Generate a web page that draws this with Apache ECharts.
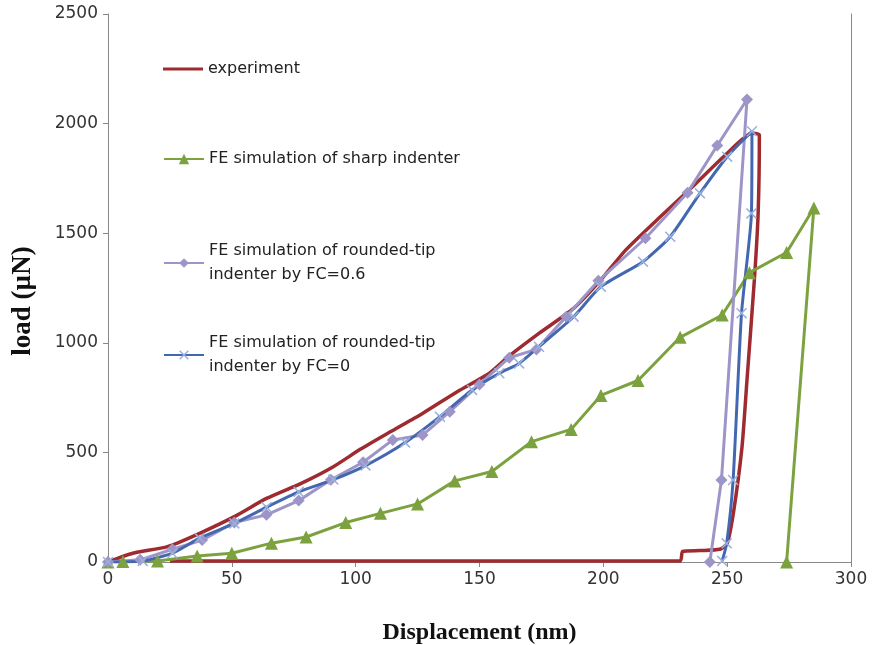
<!DOCTYPE html>
<html>
<head>
<meta charset="utf-8">
<script src="https://cdn.jsdelivr.net/npm/echarts@6/dist/echarts.min.js"></script>
<style>
  html, body { margin: 0; padding: 0; background: #fff; }
  #main { width: 874px; height: 645px; }
</style>
</head>
<body>
<div id="main"></div>
<script>
// displacement (nm) / load (uN)
var expX = [0, 10, 24, 37, 51, 64, 78, 91, 102, 114, 127, 141, 154, 162, 174, 188, 199, 209, 223, 236, 250, 260, 263,
  262.5, 261, 258, 256, 252.5, 250, 247, 239, 232, 231, 25]
var expY = [0, 40, 70, 131, 207, 290, 359, 435, 515, 594, 678, 777, 861, 940, 1043, 1157, 1287, 1423, 1575, 1712, 1865, 1956, 1948,
  1590, 1290, 830, 526, 222, 85, 58, 52, 48, 5, 5]

var sharpX = [0, 6, 20, 36, 50, 66, 80, 96, 110, 125, 140, 155, 171, 187, 199, 214, 231, 248, 259, 274, 285, 274]
var sharpY = [0, 2, 5, 27, 40, 86, 114, 180, 222, 265, 370, 413, 549, 605, 760, 828, 1025, 1127, 1320, 1412, 1615, 0]

var fc06X = [0, 13, 26, 38, 51, 64, 77, 90, 103, 115, 127, 138, 150, 162, 173, 185, 198, 217, 234, 246, 258, 247.7, 243]
var fc06Y = [0, 10, 58, 100, 180, 215, 280, 375, 455, 557, 579, 686, 810, 932, 970, 1119, 1283, 1477, 1685, 1900, 2110, 374, 0]

var fc0X = [0, 14, 26, 37, 51, 64, 77, 91, 104, 120, 134, 147, 158, 166, 174, 188, 199, 216, 227, 239, 250, 260,
  259.8, 255.8, 252.4, 249.8, 248]
var fc0Y = [0, 5, 40, 109, 176, 250, 320, 376, 440, 545, 663, 785, 861, 906, 982, 1119, 1256, 1370, 1484, 1682, 1849, 1965,
  1590, 1135, 374, 85, 5]

var xTicks = { min: 0, max: 300, interval: 50 }
var yTicks = { min: 0, max: 2500, interval: 500 }

function pairs(xs, ys) {
  return xs.map(function (x, i) { return [x, ys[i]] })
}

var crossPath = 'path://M0,1L1,0L5,4L9,0L10,1L6,5L10,9L9,10L5,6L1,10L0,9L4,5Z'

var chartDom = document.getElementById('main')
var myChart = echarts.init(chartDom)
var labelFont = 'DejaVu Sans'
var legendText = { fontFamily: labelFont, fontSize: 16, color: '#222' }
var legendTextTwoLines = { fontFamily: labelFont, fontSize: 16, color: '#222', lineHeight: 24, padding: [24, 0, 0, 0] }
var option = {
  animation: false,
  grid: { left: 108, right: 23, top: 14, bottom: 83, outerBoundsMode: 'none' },
  legend: [
    {
      data: [{ name: 'experiment', icon: 'rect' }], left: 163, top: 61, orient: 'vertical', padding: 0,
      itemWidth: 40, itemHeight: 3,
      textStyle: legendText
    },
    {
      data: ['FE simulation of sharp indenter'], left: 163, top: 151, orient: 'vertical', padding: 0,
      itemWidth: 40, itemHeight: 13,
      textStyle: legendText
    },
    {
      data: ['FE simulation of rounded-tip\nindenter by FC=0.6'], left: 163, top: 227, orient: 'vertical', padding: 0,
      itemWidth: 40, itemHeight: 12,
      textStyle: legendTextTwoLines
    },
    {
      data: ['FE simulation of rounded-tip\nindenter by FC=0'], left: 163, top: 319, orient: 'vertical', padding: 0,
      itemWidth: 40, itemHeight: 12,
      textStyle: legendTextTwoLines
    }
  ],
  xAxis: {
    type: 'value',
    min: xTicks.min, max: xTicks.max, interval: xTicks.interval,
    name: 'Displacement (nm)', nameLocation: 'middle', nameGap: 59,
    nameTextStyle: { fontFamily: 'Liberation Serif', fontWeight: 'bold', fontSize: 24, color: '#111' },
    axisLine: { lineStyle: { color: '#888', width: 1 } },
    axisTick: { show: true, length: 5, lineStyle: { color: '#888' } },
    axisLabel: { fontFamily: labelFont, fontSize: 17, color: '#333', margin: 9 },
    splitLine: { show: false }
  },
  yAxis: [
    {
      type: 'value',
      min: yTicks.min, max: yTicks.max, interval: yTicks.interval,
      name: 'load (\u00b5N)', nameLocation: 'middle', nameGap: 71,
      nameTextStyle: {
        fontFamily: 'Liberation Serif', fontWeight: 'bold', fontSize: 27, color: '#111',
        padding: [0, 26, 0, 0]
      },
      axisLine: { show: true, lineStyle: { color: '#888', width: 1 } },
      axisTick: { show: true, length: 5, lineStyle: { color: '#888' } },
      axisLabel: {
        fontFamily: labelFont, fontSize: 17, color: '#333', margin: 10,
        formatter: function (v) { return String(v) }
      },
      splitLine: { show: false }
    },
    {
      type: 'value', position: 'right',
      min: yTicks.min, max: yTicks.max, interval: yTicks.interval,
      axisLine: { show: true, lineStyle: { color: '#888', width: 1 } },
      axisTick: { show: false }, axisLabel: { show: false }, splitLine: { show: false }
    }
  ],
  series: [
    {
      name: 'experiment', type: 'line', data: pairs(expX, expY),
      showSymbol: false, symbol: 'none', smooth: 0.2,
      lineStyle: { color: '#9E2B2F', width: 3.5 },
      itemStyle: { color: '#9E2B2F' }
    },
    {
      name: 'FE simulation of sharp indenter', type: 'line', data: pairs(sharpX, sharpY),
      symbol: 'triangle', symbolSize: 13,
      lineStyle: { color: '#7BA23F', width: 3 },
      itemStyle: { color: '#7BA23F' }
    },
    {
      name: 'FE simulation of rounded-tip\nindenter by FC=0.6', type: 'line', data: pairs(fc06X, fc06Y),
      symbol: 'diamond', symbolSize: 12,
      lineStyle: { color: '#9D95C8', width: 3 },
      itemStyle: { color: '#9D95C8' }
    },
    {
      name: 'FE simulation of rounded-tip\nindenter by FC=0', type: 'line', data: pairs(fc0X, fc0Y),
      symbol: crossPath, symbolSize: 11, smooth: 0.2,
      lineStyle: { color: '#4468B0', width: 3 },
      itemStyle: { color: '#9AB0DC' }
    }
  ]
}
option && myChart.setOption(option)
</script>
</body>
</html>
